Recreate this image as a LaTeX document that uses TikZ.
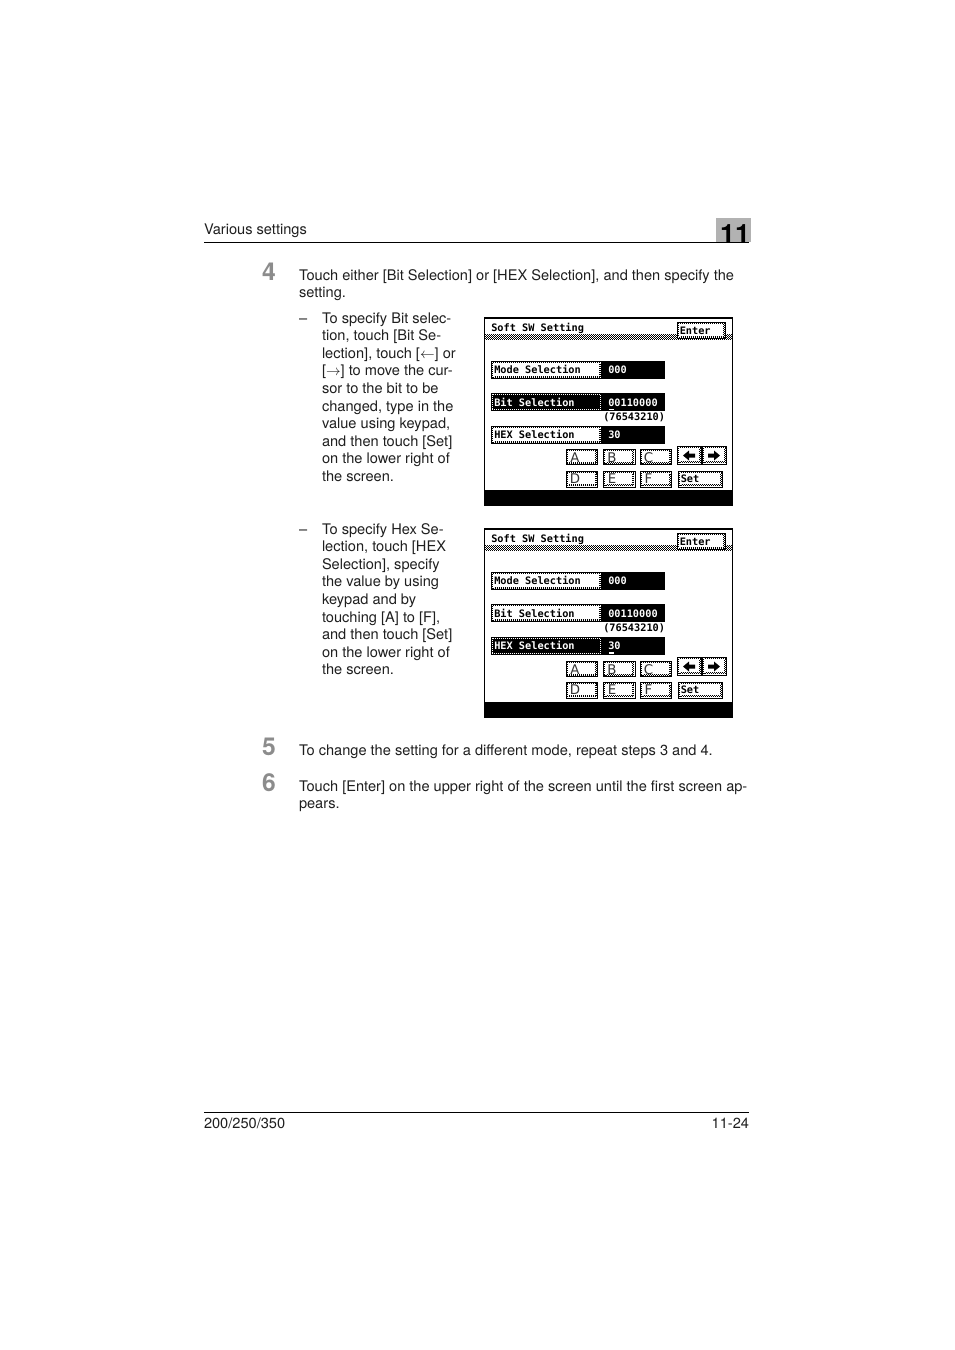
\documentclass[tikz,border=0pt]{standalone}
\usepackage{fontspec}
\setmainfont{TeX Gyre Heros}
\newfontfamily\scrmono{DejaVu Sans Mono}
\newfontfamily\scrsans{DejaVu Sans}
\tikzset{
  txt/.style={anchor=base west,inner sep=0pt,outer sep=0pt,font=\fontsize{10.95}{12}\selectfont,text=black!88},
  rtxt/.style={txt,anchor=base east},
  stepnum/.style={anchor=base,inner sep=0pt,font=\fontsize{18.5}{20}\selectfont\bfseries,text=black!45},
  scr/.style={anchor=base west,inner sep=0pt,font=\fontsize{7.7}{9}\scrmono\bfseries},
  key/.style={anchor=center,inner sep=0pt,font=\fontsize{10}{11}\scrsans\color{black!80}},
  rule/.style={line width=.75pt,black},
  dots/.style={line width=.75pt,dash pattern=on .75pt off .75pt,black},
}
% button: x1 y1 x2 y2 -- solid outline with a dithered ring inside it
\newcommand\btnbox[4]{%
  \fill[white] (#1,#2) rectangle (#3,#4);
  \draw[line width=.75pt,black] (#1,#2) rectangle (#3,#4);
  \draw[dots] (#1+1.4,#2+1.4) rectangle (#3-1.4,#4-1.4);
  \draw[dots,dash phase=.75pt] (#1+2,#4-2.4) -- (#3-2.4,#4-2.4) -- (#3-2.4,#2+2);
}
\newcommand\selbox[4]{%
  \fill[black] (#1,#2) rectangle (#3,#4);
  \draw[dots,white] (#1+1.4,#2+1.4) rectangle (#3-1.4,#4-1.4);
}
\newcommand\softscreen[4]{% prefix, yoffset, selected row (1 bit, 2 hex), extra bottom
\begin{scope}[shift={(0,#2)}]
  \fill[white] (484.5,318) rectangle (732.5,505);
  \draw[line width=.9pt,black] (484.5,318) rectangle (732.5,505+#4);
  \fill[black] (484,490+#4) rectangle (733,505.5+#4);
  \foreach \r in {0,2,4} \draw[dots] (485,334.5+\r) -- (732.5,334.5+\r);
  \foreach \r in {1,3,5} \draw[dots,dash phase=.75pt] (485,334.5+\r) -- (732.5,334.5+\r);
  \node[scr] (#1title) at (491,331) {Soft SW Setting};
  \btnbox{677.5}{322}{725.5}{338.5}
  \node[scr] (#1enter) at (679.5,334) {Enter};
  % value fields
  \fill[black] (601,361) rectangle (665,378.5);
  \fill[black] (601,393) rectangle (665,410.5);
  \fill[black] (601,426) rectangle (665,443.5);
  \node[scr,text=white] (#1v1) at (608,373.5) {000};
  \node[scr,text=white] (#1v2) at (608,406) {00110000};
  \node[scr,text=white] (#1v3) at (608,438.5) {30};
  \node[scr] (#1bits) at (603,420) {(76543210)};
  \btnbox{491.5}{361.5}{601.5}{378.5}
  \node[scr] (#1m) at (494,373.5) {Mode Selection};
  \ifnum#3=1
    \selbox{491}{393}{602}{410.5}
    \node[scr,text=white] (#1b) at (494,406) {Bit Selection};
    \fill[white] (609,408.6) rectangle (614,410);
    \btnbox{491.5}{426.5}{601.5}{443.5}
    \node[scr] (#1h) at (494,438.5) {HEX Selection};
  \else
    \btnbox{491.5}{393.5}{601.5}{410.5}
    \node[scr] (#1b) at (494,406) {Bit Selection};
    \selbox{491}{426}{602}{443.5}
    \node[scr,text=white] (#1h) at (494,438.5) {HEX Selection};
    \fill[white] (609,441.4) rectangle (614,442.8);
  \fi
  \begin{scope}[shift={(0,#4)}]
  \btnbox{566}{449}{597.5}{464.5}\node[key] (#1A) at (575,457.5) {A};
  \btnbox{603.5}{449}{635}{464.5}\node[key] (#1B) at (612,457.5) {B};
  \btnbox{640.5}{449}{671.5}{464.5}\node[key] (#1C) at (648.5,457.5) {C};
  \end{scope}
  \btnbox{566}{471.5}{597.5}{487}\node[key] (#1D) at (575,479) {D};
  \btnbox{603.5}{471.5}{635}{487}\node[key] (#1E) at (612,479) {E};
  \btnbox{640.5}{471.5}{671.5}{487}\node[key] (#1F) at (648.5,479) {F};
  \btnbox{677.5}{446.5}{701.5}{464}
  \btnbox{702.5}{446.5}{726.5}{464}
  \fill[black] (695,453.5) -- (689,453.5) -- (689,450.5) -- (683,455.5) -- (689,460.5) -- (689,457.5) -- (695,457.5) -- cycle;
  \fill[black] (708,453.5) -- (714,453.5) -- (714,450.5) -- (720,455.5) -- (714,460.5) -- (714,457.5) -- (708,457.5) -- cycle;
  \btnbox{678.5}{471.5}{722.5}{487}
  \node[scr] (#1set) at (680.5,482) {Set};
\end{scope}}
\begin{document}
\begin{tikzpicture}[x=.75pt,y=-.75pt]
\useasboundingbox (0,0) rectangle (954,1350);
\fill[white] (0,0) rectangle (954,1350);
% header
\fill[black!30] (716,218) rectangle (751,242);
\node[anchor=base,inner sep=0pt,font=\fontsize{20}{22}\selectfont\bfseries,text=black] (chap) at (735,243) {11};
\draw[rule] (204,242.5) -- (749,242.5);
\node[txt] (head) at (204,234) {Various settings};
% step numbers
\node[stepnum] (n4) at (269,280) {4};
\node[stepnum] (n5) at (269,755) {5};
\node[stepnum] (n6) at (269,791) {6};
% step text
\node[txt] (s4a) at (299,280) {Touch either [Bit Selection] or [HEX Selection], and then specify the};
\node[txt] (s4b) at (299,297) {setting.};
\node[txt] (s5) at (299,755) {To change the setting for a different mode, repeat steps 3 and 4.};
\node[txt] (s6a) at (299,791) {Touch [Enter] on the upper right of the screen until the first screen ap-};
\node[txt] (s6b) at (299,808) {pears.};
% lists
\node[txt] (d1) at (299,323) {–};
\foreach \t [count=\i] in {To specify Bit selec-,{tion, touch [Bit Se-},{lection], touch [$\leftarrow$] or},{[$\rightarrow$] to move the cur-},sor to the bit to be,{changed, type in the},{value using keypad,},and then touch [Set],on the lower right of,the screen.}
  \node[txt] (la\i) at (322,{323+17.6*(\i-1)}) {\t};
\node[txt] (d2) at (299,534) {–};
\foreach \t [count=\i] in {To specify Hex Se-,{lection, touch [HEX},{Selection], specify},the value by using,keypad and by,{touching [A] to [F],},and then touch [Set],on the lower right of,the screen.}
  \node[txt] (lb\i) at (322,{534+17.6*(\i-1)}) {\t};
\softscreen{p}{0}{1}{0}
\softscreen{q}{211}{2}{1}
% footer
\draw[rule] (204,1112.5) -- (749,1112.5);
\node[txt] (f1) at (204,1128) {200/250/350};
\node[rtxt] (f2) at (749,1128) {11-24};
\end{tikzpicture}
\end{document}
